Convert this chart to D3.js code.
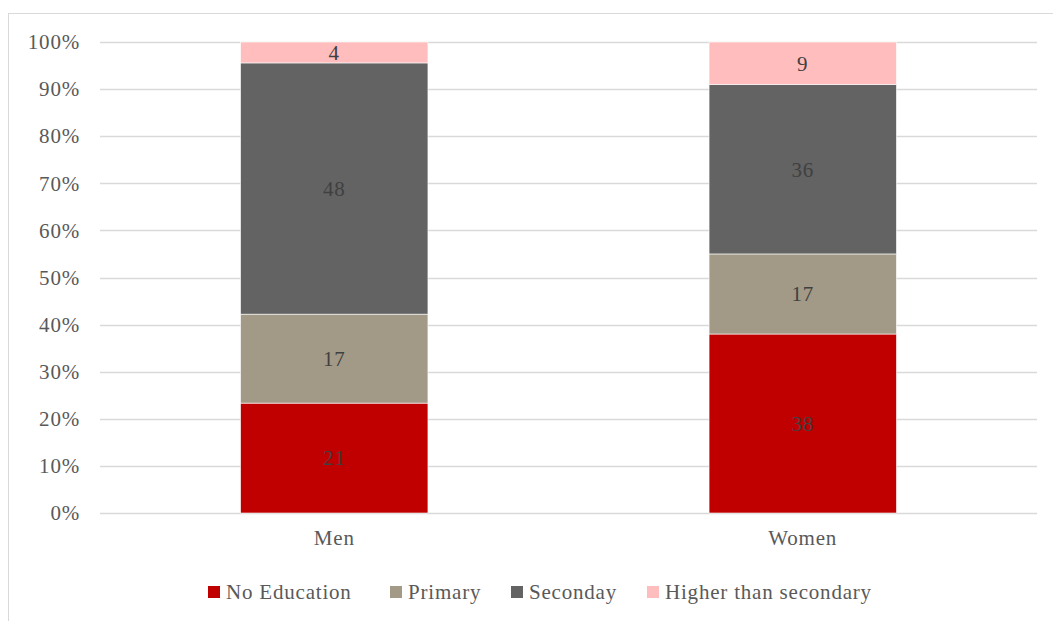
<!DOCTYPE html>
<html>
<head>
<meta charset="utf-8">
<script src="https://cdn.jsdelivr.net/npm/d3@7"></script>
<style>
  body { margin: 0; background: #fff; }
  svg { display: block; }
  svg text { font-family: "Liberation Serif", "DejaVu Serif", serif; font-size: 21px; letter-spacing: 0.8px; }
</style>
</head>
<body>
<svg></svg>
<script>
var categories = ["Men", "Women"];
var seriesNames = ["No Education", "Primary", "Seconday", "Higher than secondary"];
var noEducation = [21, 38];
var primary = [17, 17];
var secondary = [48, 36];
var higher = [4, 9];
var colors = ["#c00000", "#a29a86", "#636363", "#ffbdbd"];
var tickValues = [0, 0.1, 0.2, 0.3, 0.4, 0.5, 0.6, 0.7, 0.8, 0.9, 1];

var W = 1053, H = 621;
var margin = {top: 42, right: 16, bottom: 108, left: 100};
var width = W - margin.left - margin.right,
    height = H - margin.top - margin.bottom;

var rows = categories.map(function(c, i) {
  return {cat: c, "No Education": noEducation[i], "Primary": primary[i],
          "Seconday": secondary[i], "Higher than secondary": higher[i]};
});

var stack = d3.stack().keys(seriesNames).offset(d3.stackOffsetExpand);
var layers = stack(rows);

var svg = d3.select("svg").attr("width", W).attr("height", H);

// chart frame
svg.append("rect")
    .attr("x", 8.5).attr("y", 13.5)
    .attr("width", W).attr("height", H)
    .attr("fill", "none").attr("stroke", "#d9d9d9");

var g = svg.append("g")
    .attr("transform", "translate(" + margin.left + "," + margin.top + ")");

var x = d3.scaleBand().domain(categories).range([0, width]).paddingInner(0.6).paddingOuter(0.3);
var y = d3.scaleLinear().domain([0, 1]).range([height, 0]);

// gridlines
g.selectAll(".grid")
    .data(tickValues)
  .enter().append("line")
    .attr("x1", 0).attr("x2", width)
    .attr("y1", function(d) { return Math.round(y(d)) + 0.5; })
    .attr("y2", function(d) { return Math.round(y(d)) + 0.5; })
    .attr("stroke", "#d9d9d9").attr("stroke-width", 1.3);

// y axis
var yAxis = g.append("g")
    .call(d3.axisLeft(y).tickValues(tickValues).tickFormat(d3.format(".0%")).tickSize(0).tickPadding(20));
yAxis.attr("font-family", null).attr("font-size", null);
yAxis.select(".domain").remove();
yAxis.selectAll("text").attr("fill", "#595959");

// x axis
var xAxis = g.append("g")
    .attr("transform", "translate(0," + height + ")")
    .call(d3.axisBottom(x).tickSize(0).tickPadding(17));
xAxis.attr("font-family", null).attr("font-size", null);
xAxis.select(".domain").remove();
xAxis.selectAll("text").attr("fill", "#595959");

// bars
var layer = g.selectAll(".layer")
    .data(layers)
  .enter().append("g")
    .attr("fill", function(d, i) { return colors[i]; });

layer.selectAll("rect")
    .data(function(d) { return d; })
  .enter().append("rect")
    .attr("x", function(d) { return x(d.data.cat); })
    .attr("y", function(d) { return y(d[1]); })
    .attr("width", x.bandwidth())
    .attr("height", function(d) { return y(d[0]) - y(d[1]); })
    .attr("stroke", "#fff").attr("stroke-width", 0.6);

// value labels
layers.forEach(function(l) {
  g.selectAll(".lbl-" + l.index)
      .data(l)
    .enter().append("text")
      .attr("x", function(d) { return x(d.data.cat) + x.bandwidth() / 2; })
      .attr("y", function(d) { return (y(d[0]) + y(d[1])) / 2; })
      .attr("dy", "0.35em")
      .attr("text-anchor", "middle")
      .attr("fill", "#404040")
      .text(function(d) { return d.data[l.key]; });
});

// legend
var legendX = [208, 390, 511, 647];
var legend = svg.append("g").attr("transform", "translate(0,592)");
var item = legend.selectAll(".item")
    .data(seriesNames)
  .enter().append("g")
    .attr("transform", function(d, i) { return "translate(" + legendX[i] + ",0)"; });
item.append("rect")
    .attr("x", 0).attr("y", -6)
    .attr("width", 12).attr("height", 12)
    .attr("fill", function(d, i) { return colors[i]; });
item.append("text")
    .attr("x", 18).attr("dy", "0.35em")
    .attr("fill", "#595959")
    .text(function(d) { return d; });
</script>
</body>
</html>
